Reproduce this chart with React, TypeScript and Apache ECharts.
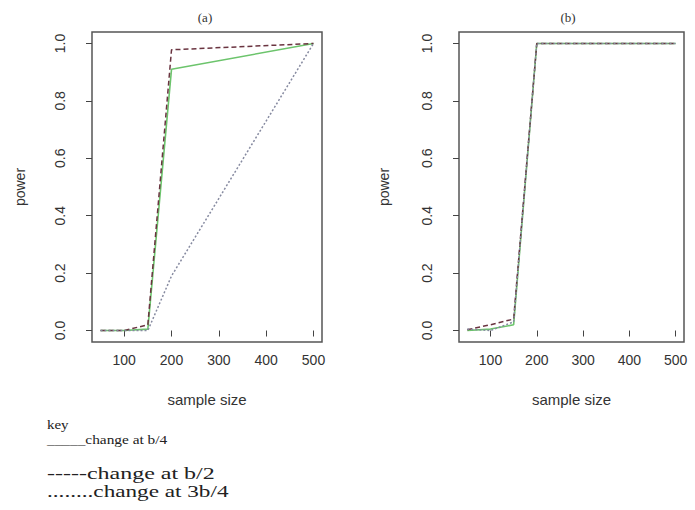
import React, { useEffect, useRef } from "react";
import * as echarts from "echarts";

const sampleSizes = [50, 100, 150, 200, 500];
const xTicks = [100, 200, 300, 400, 500];
const yTicks = [0, 0.2, 0.4, 0.6, 0.8, 1.0];

// panel (a)
const aChangeQuarter = [0, 0, 0.005, 0.91, 1.0];
const aChangeHalf = [0, 0, 0.02, 0.978, 1.0];
const aChangeThreeQuarter = [0, 0, 0, 0.19, 1.0];

// panel (b)
const bChangeQuarter = [0, 0.005, 0.02, 1.0, 1.0];
const bChangeHalf = [0.003, 0.02, 0.04, 1.0, 1.0];
const bChangeThreeQuarter = [0.005, 0.0, 0.03, 1.0, 1.0];

const panelTitles = ["(a)", "(b)"];
const keyLines = [
  "key",
  "_____change at b/4",
  "-----change at b/2",
  "........change at 3b/4",
];

const pairs = (ys: number[]) => sampleSizes.map((x, i) => [x, ys[i]]);

const SANS = "Liberation Sans, Arial, sans-serif";
const SERIF = "Liberation Serif, Times New Roman, serif";

export default function App() {
  const ref = useRef<HTMLDivElement>(null);
  useEffect(() => {
    if (!ref.current) return;
    const chart = echarts.init(ref.current, null, { renderer: "svg" });
    const grids = [
      { left: 92, right: 373, top: 32, bottom: 168 },
      { left: 459, right: 11, top: 32, bottom: 168 },
    ];
    const yNameGaps = [65, 68];
    const xAxis = grids.map((_, i) => ({
      type: "value",
      gridIndex: i,
      min: 32,
      max: 518,
      name: "sample size",
      nameLocation: "middle",
      nameGap: 50,
      nameTextStyle: { fontFamily: SANS, fontSize: 15, color: "#333" },
      axisLine: { show: false },
      axisTick: {
        show: true,
        length: 6,
        customValues: xTicks,
        lineStyle: { color: "#444", width: 1 },
      },
      axisLabel: {
        customValues: xTicks,
        margin: 11,
        fontFamily: SANS,
        fontSize: 14,
        color: "#333",
      },
      splitLine: { show: false },
    }));
    const yAxis = grids.map((_, i) => ({
      type: "value",
      gridIndex: i,
      min: -0.04,
      max: 1.04,
      name: "power",
      nameLocation: "middle",
      nameGap: yNameGaps[i],
      nameTextStyle: { fontFamily: SANS, fontSize: 14, color: "#333" },
      axisLine: { show: false },
      axisTick: {
        show: true,
        length: 6,
        customValues: yTicks,
        lineStyle: { color: "#444", width: 1 },
      },
      axisLabel: {
        customValues: yTicks,
        rotate: 90,
        margin: 25,
        fontFamily: SANS,
        fontSize: 14,
        color: "#333",
        formatter: (v: number) => v.toFixed(1),
      },
      splitLine: { show: false },
    }));
    const mk = (idx: number, name: string, ys: number[], color: string, type: any, width: number) => ({
      type: "line",
      name,
      xAxisIndex: idx,
      yAxisIndex: idx,
      data: pairs(ys),
      showSymbol: false,
      symbol: "none",
      lineStyle: { color, type, width },
    });
    const green = "#6cc46c";
    const dash = "#6a3440";
    const dot = "#868aa0";
    chart.setOption({
      animation: false,
      backgroundColor: "#fff",
      title: panelTitles.map((t, i) => ({
        text: t,
        left: i === 0 ? 200 : 563,
        top: 6,
        textAlign: "center",
        textStyle: { fontFamily: SERIF, fontSize: 13, fontWeight: "normal", color: "#333" },
      })),
      grid: grids.map((g) => ({
        ...g,
        show: true,
        borderColor: "#555",
        borderWidth: 1.5,
        backgroundColor: "transparent",
      })),
      xAxis,
      yAxis,
      series: [
        mk(0, "change at b/4", aChangeQuarter, green, "solid", 1.6),
        mk(0, "change at b/2", aChangeHalf, dash, [5, 3], 1.5),
        mk(0, "change at 3b/4", aChangeThreeQuarter, dot, [2, 2], 1.5),
        mk(1, "change at b/4", bChangeQuarter, green, "solid", 1.6),
        mk(1, "change at b/2", bChangeHalf, dash, [5, 3], 1.5),
        mk(1, "change at 3b/4", bChangeThreeQuarter, dot, [2, 2], 1.5),
      ],
      graphic: [
        { type: "text", x: 47, y: 418, scaleX: 1.15, style: { text: keyLines[0], font: `13px ${SERIF}`, fill: "#222" } },
        { type: "text", x: 47, y: 434, scaleX: 1.28, style: { text: keyLines[1], font: `12px ${SERIF}`, fill: "#222" } },
        { type: "text", x: 47, y: 466, scaleX: 1.5, style: { text: keyLines[2], font: `16px ${SERIF}`, fill: "#222" } },
        { type: "text", x: 47, y: 483, scaleX: 1.45, style: { text: keyLines[3], font: `16px ${SERIF}`, fill: "#222" } },
      ],
    });
    return () => chart.dispose();
  }, []);
  return <div ref={ref} style={{ width: 695, height: 510, position: "absolute", left: 0, top: 0 }} />;
}
